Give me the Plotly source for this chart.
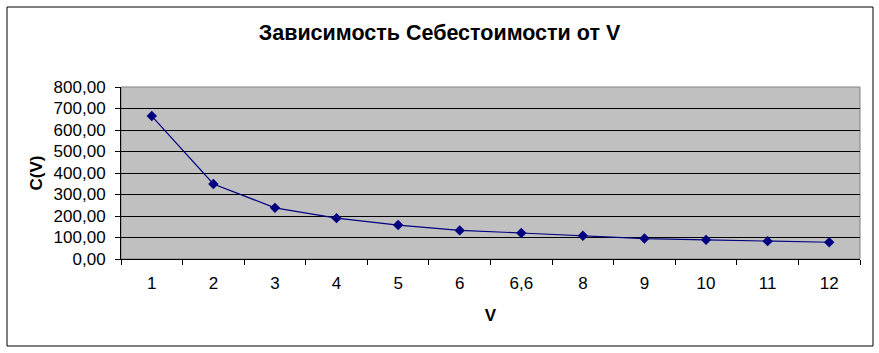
import plotly.graph_objects as go

categories = ["1", "2", "3", "4", "5", "6", "6,6", "8", "9", "10", "11", "12"]
cost_values = [665, 349, 238, 190, 158, 133, 121, 108, 95, 89, 83, 78]
y_ticks = [0, 100, 200, 300, 400, 500, 600, 700, 800]

fig = go.Figure()
fig.add_trace(go.Scatter(
    x=categories, y=cost_values, mode="lines+markers",
    line=dict(color="#000080", width=1.2),
    marker=dict(symbol="diamond", size=8, color="#000080"),
    showlegend=False,
))

font_family = "Liberation Sans, Arial, sans-serif"

fig.update_layout(
    width=879, height=353,
    margin=dict(l=121, r=19, t=87, b=94),
    paper_bgcolor="white",
    plot_bgcolor="#C0C0C0",
    separators=", ",
    font=dict(family=font_family, color="black"),
    title=dict(text="<b>Зависимость Себестоимости от V</b>", x=0.5, xanchor="center",
               y=1 - 32 / 353, yanchor="middle", font=dict(size=21.5, family=font_family)),
    xaxis=dict(
        type="category", tickson="boundaries", ticks="outside", ticklen=5,
        tickcolor="black", showline=True, linecolor="black", linewidth=1,
        showgrid=False, tickfont=dict(size=17), range=[-0.5, 11.5],
        ticklabelstandoff=9,
        title=dict(text="<b>V</b>", font=dict(size=17), standoff=16),
    ),
    yaxis=dict(
        range=[0, 800], tickvals=y_ticks, tickformat=".2f", ticks="outside",
        ticklen=5, tickcolor="black", showline=True, linecolor="black", linewidth=1,
        showgrid=True, gridcolor="black", gridwidth=1, zeroline=False,
        tickfont=dict(size=17), ticklabelstandoff=6,
        title=dict(text="<b>C(V)</b>", font=dict(size=17), standoff=6),
    ),
    shapes=[
        dict(type="rect", xref="paper", yref="paper", x0=0, x1=1, y0=0, y1=1,
             line=dict(color="#808080", width=1), layer="below"),
        dict(type="rect", xref="paper", yref="paper",
             x0=(7 - 121) / 739, x1=(873 - 121) / 739,
             y0=(259 - 346) / 172, y1=(259 - 7) / 172,
             line=dict(color="black", width=1)),
    ],
)

fig.write_html("out.html")
